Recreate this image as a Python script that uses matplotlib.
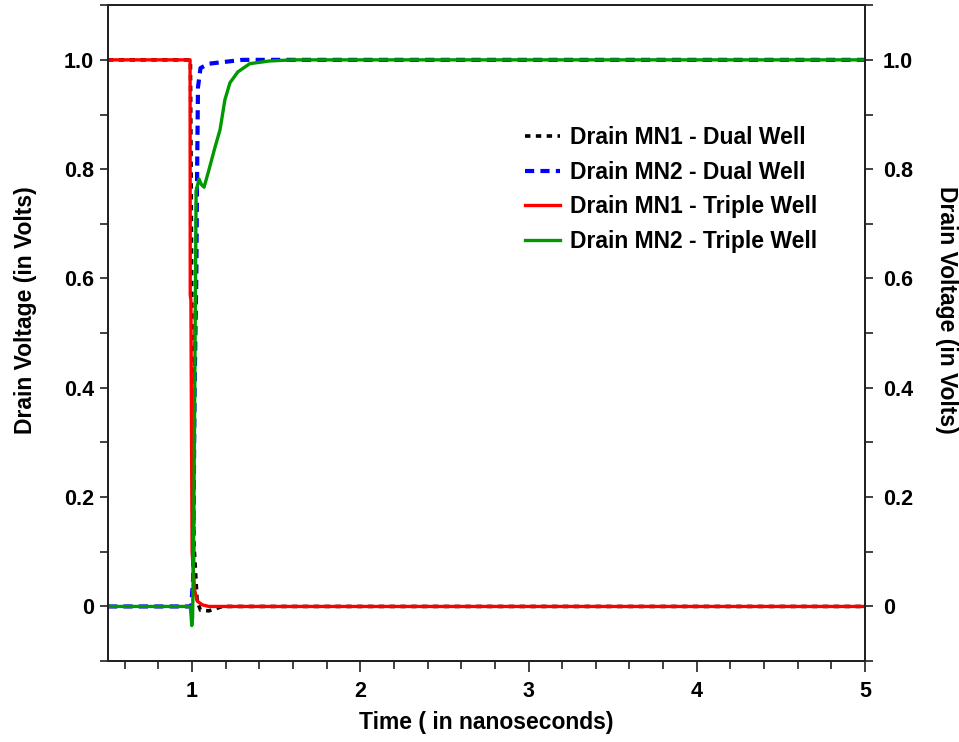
import matplotlib.pyplot as plt
from matplotlib.ticker import MultipleLocator, FixedLocator

plt.rcParams['font.family'] = ['Liberation Sans', 'DejaVu Sans']
plt.rcParams['font.weight'] = 'bold'

# time in ns, voltage in V
t_mn1_dual = [0.5, 0.99, 0.995, 1.0, 1.01, 1.03, 1.05, 1.1, 1.18, 5.0]
v_mn1_dual = [1.0, 1.0, 0.75, 0.45, 0.12, 0.01, -0.007, -0.008, 0.0, 0.0]

t_mn2_dual = [0.5, 0.995, 1.006, 1.015, 1.025, 1.03, 1.035, 1.05, 1.1, 1.3, 5.0]
v_mn2_dual = [0.0, 0.0, 0.05, 0.4, 0.6, 0.8, 0.95, 0.985, 0.993, 1.0, 1.0]

t_mn1_triple = [0.5, 0.988, 0.989, 0.993, 0.996, 1.0, 1.015, 1.03, 1.06, 1.1, 5.0]
v_mn1_triple = [1.0, 1.0, 0.57, 0.56, 0.35, 0.1, 0.03, 0.01, 0.003, 0.0, 0.0]

t_mn2_triple = [0.5, 0.99, 0.998, 1.003, 1.01, 1.018, 1.024, 1.041, 1.055, 1.071, 1.095,
                1.136, 1.166, 1.195, 1.225, 1.272, 1.343, 1.46, 1.6, 5.0]
v_mn2_triple = [0.0, 0.0, -0.035, -0.02, 0.15, 0.5, 0.76, 0.782, 0.772, 0.767, 0.793,
                0.84, 0.872, 0.927, 0.958, 0.978, 0.993, 0.998, 1.0, 1.0]

labels = ['Drain MN1 - Dual Well', 'Drain MN2 - Dual Well',
          'Drain MN1 - Triple Well', 'Drain MN2 - Triple Well']

fig = plt.figure(figsize=(9.59, 7.42), dpi=100)
ax = fig.add_axes([0.1126, 0.109, 0.7894, 0.884])

ax.plot(t_mn1_dual, v_mn1_dual, color='black', lw=2.6, ls=(0, (1.5, 1.5)), label=labels[0])
ax.plot(t_mn2_dual, v_mn2_dual, color='#0000ff', lw=3, ls=(0, (2.2, 1.5)), label=labels[1])
ax.plot(t_mn1_triple, v_mn1_triple, color='#ff0000', lw=2.4, label=labels[2])
ax.plot(t_mn2_triple, v_mn2_triple, color='#009900', lw=2.4, label=labels[3])

ax.set_xlim(0.5, 5)
ax.set_ylim(-0.1, 1.1)
ax.xaxis.set_major_locator(FixedLocator([1, 2, 3, 4, 5]))
ax.xaxis.set_minor_locator(MultipleLocator(0.2))
yt = [0, 0.2, 0.4, 0.6, 0.8, 1.0]
ytl = ['0', '0.2', '0.4', '0.6', '0.8', '1.0']
ax.set_yticks(yt)
ax.set_yticklabels(ytl)
ax.yaxis.set_minor_locator(MultipleLocator(0.1))
ax.tick_params(axis='both', which='major', direction='out', width=1.3,
               labelsize=15.5, pad=4, color='#333333')
ax.tick_params(axis='y', which='both', length=6)
ax.tick_params(axis='x', which='major', length=8, pad=6)
ax.tick_params(axis='x', which='minor', length=6)
ax.tick_params(axis='both', which='minor', direction='out', width=1.3, color='#333333')

ax2 = ax.twinx()
ax2.set_ylim(-0.1, 1.1)
ax2.set_yticks(yt)
ax2.set_yticklabels(ytl)
ax2.yaxis.set_minor_locator(MultipleLocator(0.1))
ax2.tick_params(axis='y', which='major', direction='out', length=6, width=1.3,
                labelsize=15.5, pad=7, color='#333333')
ax2.tick_params(axis='y', which='minor', direction='out', length=6, width=1.3, color='#333333')

for a in (ax, ax2):
    for s in a.spines.values():
        s.set_linewidth(1.4)
        s.set_color('#222222')

ax.set_xlabel('Time ( in nanoseconds)', fontsize=16.5, fontweight='bold')
ax.xaxis.set_label_coords(0.5, -0.076)
ax.set_ylabel('Drain Voltage (in Volts)', fontsize=16.5, fontweight='bold')
ax.yaxis.set_label_coords(-0.094, 0.535)
ax2.set_ylabel('Drain Voltage (in Volts)', fontsize=16.5, fontweight='bold',
               rotation=-90, va='bottom')
ax2.yaxis.set_label_coords(1.0925, 0.535)

leg = ax.legend(loc='upper left', bbox_to_anchor=(0.53, 0.84), frameon=False,
                prop={'size': 16.5, 'weight': 'bold'}, handlelength=1.5,
                labelspacing=0.5, handletextpad=0.45, borderpad=0.2)

fig.savefig('out.png', dpi=100)
